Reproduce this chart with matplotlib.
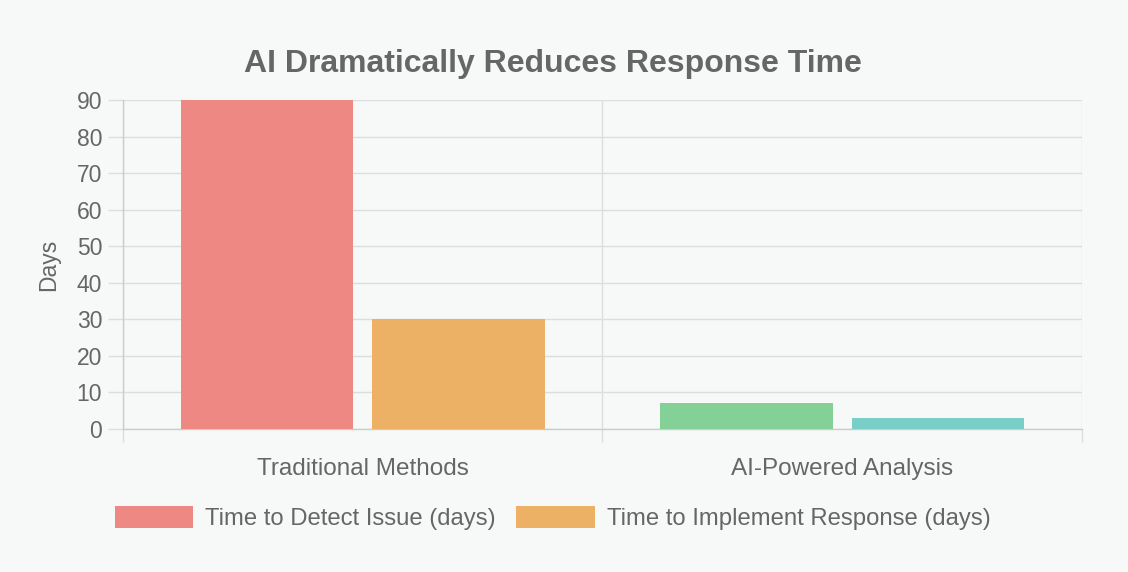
import matplotlib.pyplot as plt
import numpy as np

plt.rcParams['font.family'] = ['Liberation Sans', 'DejaVu Sans']

# data
categories = ['Traditional Methods', 'AI-Powered Analysis']
detect_days = [90, 7]
respond_days = [30, 3]
series_names = ['Time to Detect Issue (days)', 'Time to Implement Response (days)']
detect_colors = ['#ee8883', '#84d197']
respond_colors = ['#ecb165', '#79cfc7']
y_ticks = [0, 10, 20, 30, 40, 50, 60, 70, 80, 90]

bg = '#f7f9f8'
txt = '#666666'
grid_c = '#dddddd'
fs = 16.5

fig = plt.figure(figsize=(11.28, 5.72), dpi=100, facecolor=bg)
ax = fig.add_axes([0.10904, 0.25, 0.85018, 0.5752], facecolor=bg)

x = np.arange(len(categories))
w = 0.8 / 2 * 0.9  # chart.js style: category 0.8, bar 0.9
ax.bar(x - 0.2, detect_days, w, color=detect_colors, label=series_names[0], zorder=3)
ax.bar(x + 0.2, respond_days, w, color=respond_colors, label=series_names[1], zorder=3)

ax.set_xlim(-0.5, 1.5)
ax.set_ylim(0, 90)

# category borders as major ticks, labels on minor ticks
ax.set_xticks([-0.5, 0.5, 1.5])
ax.set_xticklabels([])
ax.set_xticks(x, minor=True)
ax.set_xticklabels(categories, minor=True, fontsize=17.5, color=txt)
ax.tick_params(axis='x', which='major', length=9, color=grid_c, width=1)
ax.tick_params(axis='x', which='minor', length=0, pad=21)

ax.set_yticks(y_ticks)
ax.set_yticklabels([str(v) for v in y_ticks], fontsize=fs, color=txt)
ax.tick_params(axis='y', length=11, color=grid_c, width=1, pad=4)

ax.grid(True, which='major', color=grid_c, linewidth=1, zorder=0)
for s in ['top', 'right']:
    ax.spines[s].set_visible(False)
for s in ['left', 'bottom']:
    ax.spines[s].set_color('#cccccc')
    ax.spines[s].set_linewidth(1)

ax.set_ylabel('Days', fontsize=fs, color=txt, labelpad=12)

fig.text(0.49, 0.888, 'AI Dramatically Reduces Response Time', ha='center', va='center',
         fontsize=23, fontweight='bold', color=txt)

leg = fig.legend(loc='center', bbox_to_anchor=(0.49, 0.094), ncol=2, frameon=False,
                 fontsize=17.2, handlelength=3.3, handleheight=1.0, handletextpad=0.5,
                 columnspacing=0.85, labelcolor=txt)

plt.savefig('out.png', dpi=100, facecolor=bg)
